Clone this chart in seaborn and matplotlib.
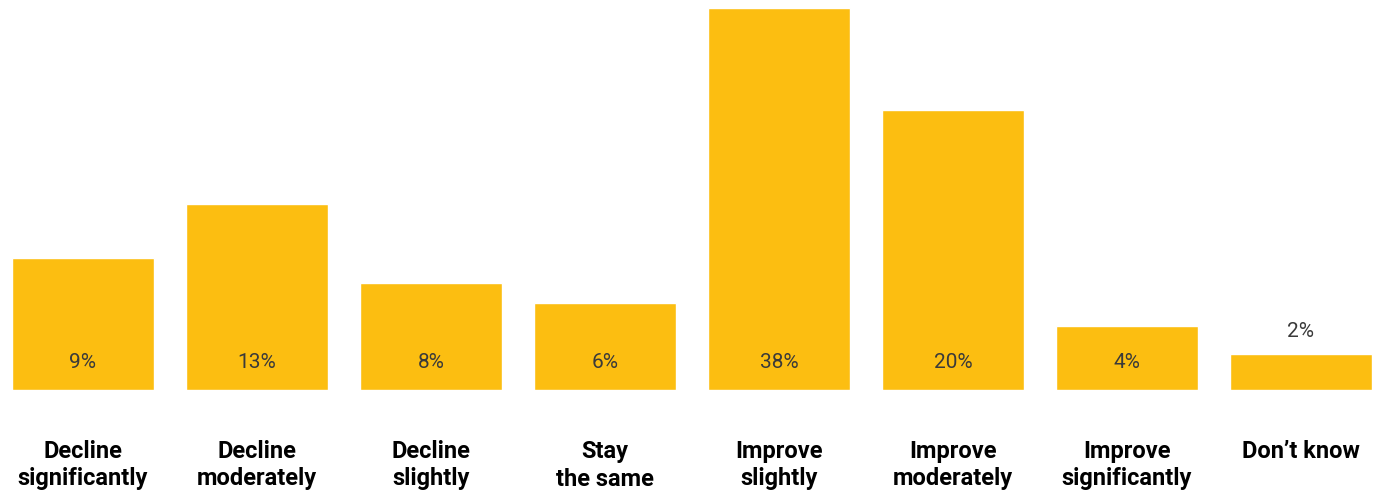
import matplotlib
matplotlib.use("Agg")
import matplotlib.pyplot as plt
import seaborn as sns
import pandas as pd

categories = ["Decline\nsignificantly", "Decline\nmoderately", "Decline\nslightly",
              "Stay\nthe same", "Improve\nslightly", "Improve\nmoderately",
              "Improve\nsignificantly", "Don\u2019t know"]
bar_heights = [13.1, 18.5, 10.6, 8.7, 38.0, 27.9, 6.4, 3.6]
value_labels = ["9%", "13%", "8%", "6%", "38%", "20%", "4%", "2%"]

df = pd.DataFrame({"cat": categories, "h": bar_heights})

sns.set_theme(style="white")
plt.rcParams["font.family"] = ["Roboto", "DejaVu Sans"]

fig = plt.figure(figsize=(13.75, 4.92), dpi=100)
ax = fig.add_axes([0, 102 / 492, 1, 390 / 492])

sns.barplot(data=df, x="cat", y="h", color="#FCBE11", saturation=1,
            width=0.816, ax=ax)

ax.set_xlim((0 - 83) / 174, (1375 - 83) / 174)
ymax = 38.0 * 390 / 382
ax.set_ylim(0, ymax)
per_px = ymax / 390

for i, (h, lab) in enumerate(zip(bar_heights, value_labels)):
    if h / per_px > 50:
        y = 28 * per_px
    else:
        y = h + 22 * per_px
    ax.text(i, y, lab, ha="center", va="center", fontsize=15,
            color="#3a3a3a", fontweight="normal")

ax.set_xlabel("")
ax.set_ylabel("")
ax.set_yticks([])
ax.tick_params(axis="x", length=0, pad=36)
ax.set_xticks(range(len(categories)))
ax.set_xticklabels(categories, fontsize=17, fontweight="bold", color="black",
                   linespacing=1.25, va="top")
for s in ax.spines.values():
    s.set_visible(False)

fig.savefig("out.png", dpi=100)
